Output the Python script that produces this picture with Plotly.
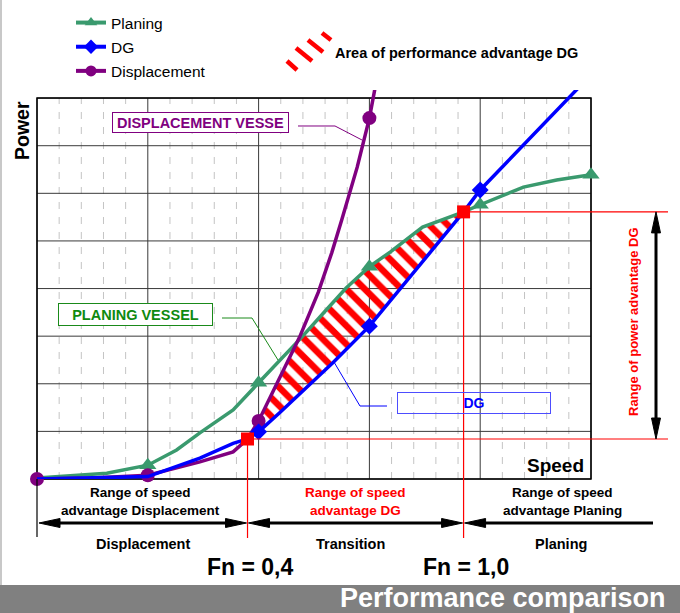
import numpy as np
import plotly.graph_objects as go

# ---------------- data (axis units: speed 0..5, power 0..8) -------------
PLAN_X = [0, 0.63, 1, 1.26, 1.47, 1.77, 2, 2.39, 2.61, 2.79, 3, 3.19, 3.48, 3.85, 4, 4.39, 4.69, 5]
PLAN_Y = [0.02, 0.12, 0.29, 0.61, 0.97, 1.45, 2.02, 2.98, 3.55, 4.01, 4.46, 4.77, 5.29, 5.61, 5.76, 6.13, 6.28, 6.39]
PLAN_MARK_X = [1, 2, 3, 4, 5]

DG_X = [0, 1, 1.47, 1.77, 1.9, 2, 2.19, 2.67, 3, 3.85, 4, 4.88]
DG_Y = [0, 0.05, 0.44, 0.75, 0.84, 0.99, 1.39, 2.44, 3.21, 5.61, 6.07, 8.2]
DG_MARK_X = [2, 3, 4]

DISP_X = [0, 0.5, 1, 1.47, 1.77, 1.9, 2, 2.19, 2.37, 2.54, 2.66, 2.75, 2.89, 3.0, 3.05]
DISP_Y = [0, 0.02, 0.08, 0.36, 0.57, 0.84, 1.22, 2.14, 2.98, 3.93, 4.75, 5.44, 6.55, 7.58, 8.2]
DISP_MARK_X = [0, 1, 2, 3]

CROSS_X = [1.9, 3.85]     # intersections DG/Displacement and DG/Planing
CROSS_Y = [0.84, 5.61]

SERIES_NAMES = ["Planing", "DG", "Displacement"]
AREA_LABEL = "Area of performance advantage DG"
REGION_LABELS = ["Displacement", "Transition", "Planing"]
FN_LABELS = ["Fn = 0,4", "Fn = 1,0"]

GREEN = "#3a9a6e"
BLUE = "#0000ff"
PURPLE = "#800080"
RED = "#ff0000"
FONT = "Liberation Sans, Arial, sans-serif"

# ---------------- geometry ----------------
W, H = 680, 613
L, R, T, B = 37, 89, 90, 134
XMAX, YMAX, YTOP = 5, 8.17, 8
PW, PH = W - L - R, H - T - B


def PX(px):
    return (px - L) / PW


def PY(py):
    return (H - B - py) / PH


def DX(x):
    return x / XMAX


def DY(y):
    return y / YMAX


def to_px(x, y):
    return L + DX(x) * PW, H - B - DY(y) * PH


def path(points):
    return "M " + " L ".join(f"{PX(a):.5f},{PY(b):.5f}" for a, b in points)


shapes = []


def line_px(x0, y0, x1, y1, color, width=1, dash=None, layer="above"):
    d = dict(type="line", xref="paper", yref="paper", x0=PX(x0), y0=PY(y0), x1=PX(x1), y1=PY(y1),
             line=dict(color=color, width=width), layer=layer)
    if dash:
        d["line"]["dash"] = dash
    shapes.append(d)


def arrowhead(tipx, tipy, direction, length=21, half=4.5, color="black"):
    dxs = {"left": (1, 0), "right": (-1, 0), "up": (0, 1), "down": (0, -1)}[direction]
    bx, by = tipx + dxs[0] * length, tipy + dxs[1] * length
    px_, py_ = -dxs[1], dxs[0]
    pts = [(tipx, tipy), (bx + px_ * half, by + py_ * half), (bx - px_ * half, by - py_ * half)]
    shapes.append(dict(type="path", xref="paper", yref="paper", path=path(pts) + " Z",
                       fillcolor=color, line=dict(color=color, width=1), layer="above"))


# grid (minor dashed verticals, major lines, frame)
for m in range(1, XMAX * 5):
    if m % 5:
        x = m * 0.2
        shapes.append(dict(type="line", xref="paper", yref="paper", x0=DX(x), x1=DX(x), y0=0, y1=DY(YTOP),
                           line=dict(color="#c4c4c4", width=1, dash="7px,8px"), layer="below"))
for k in range(0, XMAX + 1):
    shapes.append(dict(type="line", xref="paper", yref="paper", x0=DX(k), x1=DX(k), y0=0, y1=DY(YTOP),
                       line=dict(color="#3a3a3a", width=1), layer="below"))
for j in range(0, YTOP + 1):
    shapes.append(dict(type="line", xref="paper", yref="paper", x0=0, x1=1, y0=DY(j), y1=DY(j),
                       line=dict(color="#3a3a3a", width=1), layer="below"))
shapes.append(dict(type="rect", xref="paper", yref="paper", x0=0, x1=1, y0=0, y1=DY(YTOP),
                   line=dict(color="black", width=1.5), layer="below"))

fig = go.Figure()

# hatched area between DG and min(Planing, Displacement)
xs = np.linspace(CROSS_X[0], CROSS_X[1], 150)
top = np.minimum(np.interp(xs, PLAN_X, PLAN_Y), np.interp(xs, DISP_X, DISP_Y))
bot = np.interp(xs, DG_X, DG_Y)
fig.add_trace(go.Scatter(
    x=np.concatenate([xs, xs[::-1]]), y=np.concatenate([top, bot[::-1]]),
    fill="toself", mode="lines", line=dict(width=0, color="rgba(0,0,0,0)"),
    fillcolor="rgba(0,0,0,0)",
    fillpattern=dict(shape="\\", fgcolor=RED, fgopacity=1, bgcolor="rgba(0,0,0,0)", size=13, solidity=0.5),
    showlegend=False, hoverinfo="skip"))


def series(xv, yv, marks, color, symbol, msize):
    fig.add_trace(go.Scatter(x=xv, y=yv, mode="lines", line=dict(color=color, width=3.5),
                             showlegend=False, hoverinfo="skip"))
    my = [y for x, y in zip(xv, yv) if x in marks]
    mx = [x for x in xv if x in marks]
    fig.add_trace(go.Scatter(x=mx, y=my, mode="markers", opacity=1,
                             marker=dict(size=msize, symbol=symbol, color=color, opacity=1, line=dict(width=0)),
                             showlegend=False, cliponaxis=False))


series(PLAN_X, PLAN_Y, PLAN_MARK_X, GREEN, "triangle-up", 15)
series(DISP_X, DISP_Y, DISP_MARK_X, PURPLE, "circle", 14)
series(DG_X, DG_Y, DG_MARK_X, BLUE, "diamond", 13)

fig.add_trace(go.Scatter(x=CROSS_X, y=CROSS_Y, mode="markers", cliponaxis=False,
                         marker=dict(symbol="square", size=13, color=RED, opacity=1), showlegend=False))

# legend entries
for nm, col, sym in [(SERIES_NAMES[0], GREEN, "triangle-up"), (SERIES_NAMES[1], BLUE, "diamond"),
                     (SERIES_NAMES[2], PURPLE, "circle")]:
    fig.add_trace(go.Scatter(x=[None], y=[None], mode="lines+markers", name=nm, legendgroup=nm,
                             line=dict(color=col, width=4), marker=dict(symbol=sym, size=11, color=col)))

# ---------------- decorations ----------------
c1 = to_px(CROSS_X[0], CROSS_Y[0])
c2 = to_px(CROSS_X[1], CROSS_Y[1])

# red range lines
line_px(c2[0], c2[1], 668, c2[1], RED, 1.2)
line_px(c1[0], c1[1], 668, c1[1], RED, 1.2)
line_px(c1[0], c1[1], c1[0], 538, RED, 1.2)
line_px(c2[0], c2[1], c2[0], 538, RED, 1.2)

# vertical power arrow
line_px(656, c2[1] + 15, 656, c1[1] - 15, "black", 3)
arrowhead(656, c2[1], "up")
arrowhead(656, c1[1], "down")

# bottom speed arrows
ya = 523
line_px(39 + 15, ya, c1[0] - 15, ya, "black", 3)
arrowhead(39, ya, "left")
arrowhead(c1[0] - 1, ya, "right")
line_px(c1[0] + 15, ya, c2[0] - 15, ya, "black", 3)
arrowhead(c1[0] + 1, ya, "left")
arrowhead(c2[0] - 1, ya, "right")
line_px(c2[0] + 15, ya, 653, ya, "black", 3)
arrowhead(c2[0] + 1, ya, "left")
line_px(37, 479, 37, 537, "black", 1.2)

# leader lines of labelled boxes
shapes.append(dict(type="path", xref="paper", yref="paper", path=path([(298, 126), (335, 126), (362, 140)]),
                   line=dict(color=PURPLE, width=1)))
shapes.append(dict(type="path", xref="paper", yref="paper", path=path([(222, 318), (252, 318), (278, 360)]),
                   line=dict(color="#1a8a1a", width=1)))
shapes.append(dict(type="path", xref="paper", yref="paper", path=path([(334, 362), (360, 406), (387, 406)]),
                   line=dict(color=BLUE, width=1)))

# swatch for hatched area legend
for (a, b, c, d) in [(287, 61, 297, 70), (296, 48, 312, 61), (308, 40, 323, 52), (322, 33, 331, 40)]:
    line_px(a, b, c, d, RED, 4.5)

# gray footer band and left border
shapes.append(dict(type="rect", xref="paper", yref="paper", x0=PX(-2), x1=PX(W + 2), y0=PY(585), y1=PY(H + 5),
                   fillcolor="#808080", line=dict(width=0), layer="above"))
line_px(1, 0, 1, 585, "#c8c8c8", 2)

annotations = []


def ann(px, py, text, size, color="black", xanchor="center", angle=0, bold=True, **kw):
    d = dict(x=PX(px), y=PY(py), xref="paper", yref="paper", text=f"<b>{text}</b>" if bold else text,
             showarrow=False, xanchor=xanchor, yanchor="middle", textangle=angle,
             font=dict(family=FONT, size=size, color=color))
    d.update(kw)
    annotations.append(d)


ann(333, 53, AREA_LABEL, 14.5, xanchor="left")
ann(22, 131, "Power", 19.5, angle=-90)
ann(586, 465, "Speed", 19, xanchor="right")
ann(633, 322, "Range of power advantage DG", 13, RED, angle=-90)

# boxed labels
ann(200.5, 122.5, "DISPLACEMENT VESSE", 14.5, PURPLE, width=175, height=19, bordercolor=PURPLE, borderwidth=1,
    borderpad=0, bgcolor="white")
ann(135.5, 314.5, "PLANING VESSEL", 14.5, "#0f8a0f", width=153, height=21, bordercolor="#1a8a1a", borderwidth=1,
    borderpad=0, bgcolor="white")
ann(474, 403, "DG", 14, BLUE, width=152, height=20, bordercolor="#4d4dff", borderwidth=1, borderpad=0)

# bottom texts
ann(140, 492, "Range of speed", 13.5)
ann(140, 511, "advantage Displacement", 13.5)
ann(355, 492, "Range of speed", 13.5, RED)
ann(355, 511, "advantage DG", 13.5, RED)
ann(562, 492, "Range of speed", 13.5)
ann(562, 511, "advantage Planing", 13.5)
ann(143, 544, REGION_LABELS[0], 14.5)
ann(350, 544, REGION_LABELS[1], 14.5)
ann(561, 544, REGION_LABELS[2], 14.5)
ann(250, 567, FN_LABELS[0], 23)
ann(466, 567, FN_LABELS[1], 23)
ann(668, 598, "Performance comparison", 27, "white", xanchor="right")

fig.update_layout(
    width=W, height=H, margin=dict(l=L, r=R, t=T, b=B, pad=0, autoexpand=False),
    paper_bgcolor="white", plot_bgcolor="white",
    xaxis=dict(range=[0, XMAX], showgrid=False, zeroline=False, showticklabels=False, showline=False,
               fixedrange=True),
    yaxis=dict(range=[0, YMAX], showgrid=False, zeroline=False, showticklabels=False, showline=False,
               fixedrange=True),
    showlegend=True,
    legend=dict(x=PX(71), y=PY(6), xanchor="left", yanchor="top", bgcolor="rgba(0,0,0,0)",
                font=dict(family=FONT, size=15.5, color="black"), traceorder="grouped", tracegroupgap=1,
                itemclick=False),
    shapes=shapes, annotations=annotations,
    font=dict(family=FONT),
)

fig.write_html("out.html", config={"displayModeBar": False},
               post_script="document.body.style.margin='0';document.body.style.overflow='hidden';")
